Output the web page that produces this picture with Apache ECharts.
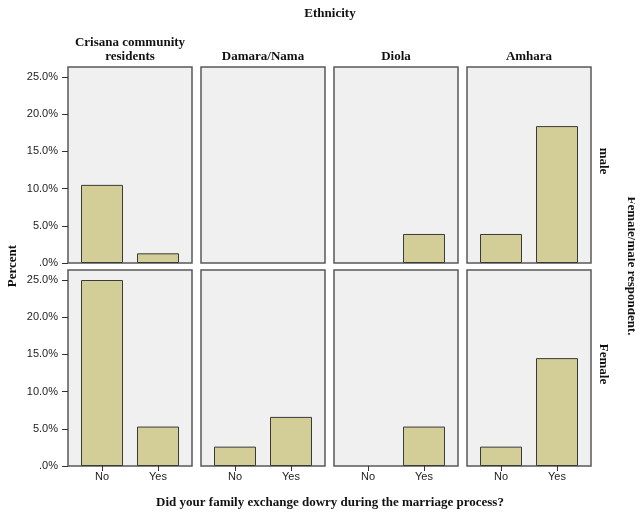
<!DOCTYPE html>
<html>
<head>
<meta charset="utf-8">
<script src="https://cdn.jsdelivr.net/npm/echarts@6/dist/echarts.min.js"></script>
<style>html,body{margin:0;padding:0;background:#fff}#c{width:635px;height:512px}</style>
</head>
<body>
<div id="c"></div>
<script>
const categories = ['No', 'Yes'];
const ethnicities = ['Crisana community\nresidents', 'Damara/Nama', 'Diola', 'Amhara'];
const genders = ['male', 'Female'];
const maleValues = [[10.5, 1.3], [0, 0], [0, 3.9], [3.9, 18.4]];
const femaleValues = [[25.0, 5.3], [2.6, 6.6], [0, 5.3], [2.6, 14.5]];
const yTicks = [0, 5, 10, 15, 20, 25];
const chartTitle = 'Ethnicity';
const xTitle = 'Did your family exchange dowry during the marriage process?';
const yTitle = 'Percent';
const rowTitle = 'Female/male respondent.';

const rowValues = [maleValues, femaleValues];
const SERIF = '"Liberation Serif", "Times New Roman", serif';
const SANS = '"Liberation Sans", Arial, sans-serif';

const grids = [], xAxes = [], yAxes = [], series = [];
const rowBottom = [263, 466];
const frameH = 196, dataH = 186;
for (let r = 0; r < 2; r++) {
  for (let c = 0; c < 4; c++) {
    const fx = 68 + 133 * c;
    const fi = grids.length;
    grids.push({left: fx, top: rowBottom[r] - frameH, width: 124, height: frameH, show: true,
      backgroundColor: '#f0f0f0', borderColor: '#585858', borderWidth: 1.5, z: 0});
    xAxes.push({gridIndex: fi, type: 'value', show: false});
    yAxes.push({gridIndex: fi, type: 'value', show: false});
    const di = grids.length;
    grids.push({left: fx + 6, top: rowBottom[r] - dataH, width: 112, height: dataH, show: false});
    const bottomRow = r === 1;
    xAxes.push({gridIndex: di, type: 'category', data: categories, boundaryGap: true,
      axisLine: {show: false},
      axisTick: {show: bottomRow, alignWithLabel: true, length: 5, lineStyle: {color: '#333', width: 1}},
      axisLabel: {show: bottomRow, margin: 5, fontFamily: SANS, fontSize: 11, color: '#222'}
    });
    yAxes.push({gridIndex: di, type: 'value', min: yTicks[0], max: yTicks[yTicks.length - 1],
      interval: yTicks[1] - yTicks[0], offset: 6,
      splitLine: {show: false}, axisLine: {show: false},
      axisTick: {show: c === 0, length: 6, lineStyle: {color: '#333', width: 1}},
      axisLabel: {show: c === 0, margin: 10, fontFamily: SANS, fontSize: 11, color: '#222',
        formatter: v => v === 0 ? '.0%' : v.toFixed(1) + '%'}
    });
    series.push({type: 'bar', xAxisIndex: di, yAxisIndex: di,
      data: rowValues[r][c].map(v => v === 0 ? '-' : v),
      barWidth: 42, z: 3, silent: true,
      itemStyle: {color: '#d3ce97', borderColor: '#3a3a3a', borderWidth: 1}});
  }
}

const graphics = [];
function txt(text, x, y, opts) {
  opts = opts || {};
  graphics.push({type: 'text', x: x, y: y, rotation: opts.rotation || 0, z: 10,
    style: {text: text, font: (opts.font || 'bold 13px ' + SERIF), fill: '#111',
      align: 'center', verticalAlign: 'middle', lineHeight: 14}});
}
txt(chartTitle, 330, 14);
ethnicities.forEach((e, c) => {
  const cx = 68 + 133 * c + 62;
  txt(e, cx, e.indexOf('\n') >= 0 ? 50 : 57);
});
txt(xTitle, 330, 503);
txt(yTitle, 13, 266, {rotation: Math.PI / 2});
txt(genders[0], 603, 161, {rotation: -Math.PI / 2});
txt(genders[1], 603, 364, {rotation: -Math.PI / 2});
txt(rowTitle, 631, 266, {rotation: -Math.PI / 2});

const chart = echarts.init(document.getElementById('c'), null, {renderer: 'canvas'});
chart.setOption({
  animation: false,
  backgroundColor: '#ffffff',
  grid: grids, xAxis: xAxes, yAxis: yAxes, series: series, graphic: graphics
});
</script>
</body>
</html>
